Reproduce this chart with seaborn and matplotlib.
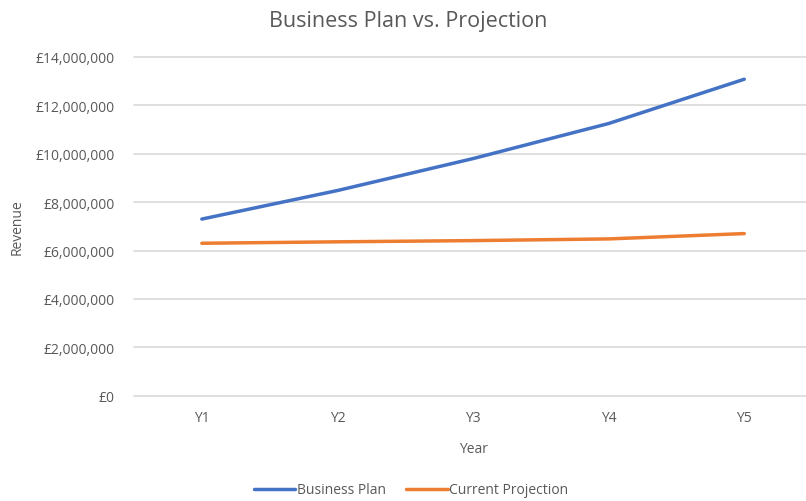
import pandas as pd
import matplotlib.pyplot as plt
import matplotlib.ticker as mticker
import seaborn as sns

years = ["Y1", "Y2", "Y3", "Y4", "Y5"]
business_plan = [7300000, 8480000, 9800000, 11250000, 13080000]
current_projection = [6300000, 6360000, 6410000, 6480000, 6700000]
series_names = ["Business Plan", "Current Projection"]

df = pd.DataFrame({
    "Year": years * 2,
    "Revenue": business_plan + current_projection,
    "Series": [series_names[0]] * 5 + [series_names[1]] * 5,
})

sns.set_theme(style="white")
plt.rcParams["font.family"] = ["Open Sans", "DejaVu Sans"]
text_col = "#595959"

fig = plt.figure(figsize=(8.06, 5.02), dpi=100)
ax = fig.add_axes([0.1663, 0.2098, 0.8412, 0.6747])

sns.lineplot(data=df, x="Year", y="Revenue", hue="Series", sort=False,
             palette=["#4472C4", "#ED7D31"], linewidth=2.5, ax=ax, legend=False)

ax.set_xlim(-0.5, 4.5)
ax.set_ylim(0, 14000000)
ax.set_yticks(range(0, 14000001, 2000000))
ax.yaxis.set_major_formatter(mticker.FuncFormatter(lambda v, p: f"£{v:,.0f}"))
ax.grid(axis="y", color="#D9D9D9", linewidth=1.2)
for gl in ax.get_ygridlines():
    gl.set_clip_on(False)
ax.set_axisbelow(True)
for s in ax.spines.values():
    s.set_visible(False)
ax.tick_params(axis="both", length=0, labelsize=10, colors=text_col)
ax.tick_params(axis="x", pad=10)
ax.tick_params(axis="y", pad=14)

ax.set_xlabel("Year", fontsize=10, color=text_col, labelpad=12)
ax.set_ylabel("Revenue", fontsize=10, color=text_col, labelpad=8)
fig.text(0.506, 0.958, "Business Plan vs. Projection", ha="center", va="center",
         fontsize=15.5, color=text_col)

handles = [plt.Line2D([], [], color=c, linewidth=2.5) for c in ["#4472C4", "#ED7D31"]]
fig.legend(handles, series_names, loc="center", bbox_to_anchor=(0.51, 0.022), ncol=2,
           frameon=False, fontsize=10, handlelength=3.0, handletextpad=0.1,
           columnspacing=1.5, labelcolor=text_col)

fig.savefig("out.png", dpi=100)
